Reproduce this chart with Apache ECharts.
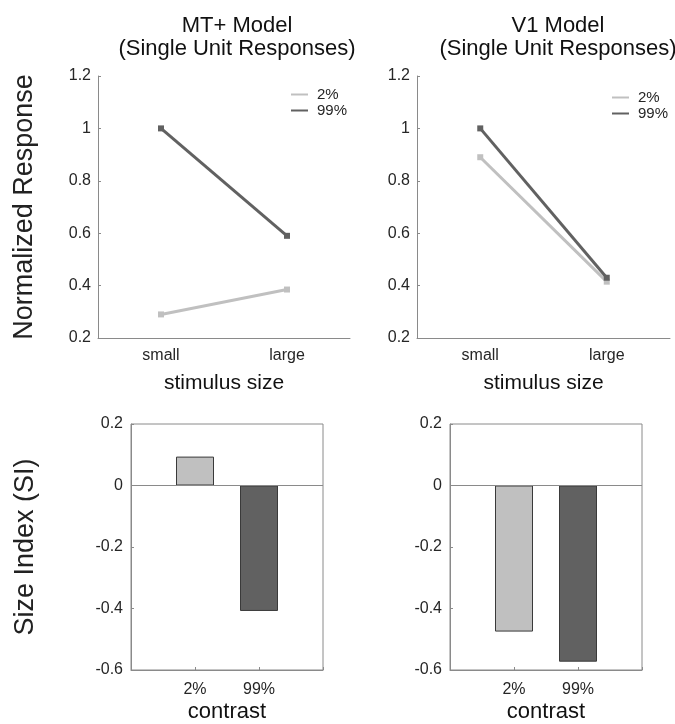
<!DOCTYPE html>
<html>
<head>
<meta charset="utf-8">
<script src="https://cdn.jsdelivr.net/npm/echarts@6/dist/echarts.min.js"></script>
<style>
  html, body { margin: 0; background: #fff; }
  #chart { width: 675px; height: 724px; }
</style>
</head>
<body>
<div id="chart"></div>
<script>
// stimulus size x contrast, normalized responses
const sizes = ['small', 'large'];
const contrasts = ['2%', '99%'];
const mtLow = [0.29, 0.385];
const mtHigh = [1.0, 0.59];
const v1Low = [0.89, 0.415];
const v1High = [1.0, 0.43];
// size index per contrast
const mtSI = [0.094, -0.408];
const v1SI = [-0.475, -0.573];

const FONT = '"Liberation Sans", Arial, sans-serif';
const TXT = '#262626';
const AX = '#8a8a8a';
const LIGHT = '#c0c0c0';
const DARK = '#616161';

const chart = echarts.init(document.getElementById('chart'));

// 上排: 折线 (只有左轴和下轴)
function lineX(idx, name) {
  return {
    type: 'category', gridIndex: idx, data: sizes, boundaryGap: true,
    axisLine: { lineStyle: { color: AX } },
    axisTick: { inside: true, length: 3, alignWithLabel: true, lineStyle: { color: AX } },
    axisLabel: { color: TXT, fontSize: 16, fontFamily: FONT, margin: 10 },
    name: name, nameLocation: 'middle', nameGap: 35,
    nameTextStyle: { color: '#111', fontSize: 21, fontFamily: FONT },
  };
}
function lineY(idx, name) {
  return {
    type: 'value', gridIndex: idx, min: 0.2, max: 1.2, interval: 0.2,
    splitLine: { show: false },
    axisLine: { show: true, lineStyle: { color: AX } },
    axisTick: { show: true, inside: true, length: 3, lineStyle: { color: AX } },
    axisLabel: { color: TXT, fontSize: 16, fontFamily: FONT, margin: 7 },
    name: name, nameLocation: 'middle', nameGap: 60,
    nameTextStyle: { color: '#222', fontSize: 27, fontFamily: FONT },
  };
}

// 下排: 柱状 (带框)
function barX(idx, name) {
  return {
    type: 'value', gridIndex: idx, min: 0, max: contrasts.length + 1, interval: 1,
    splitLine: { show: false },
    axisLine: { show: true, onZero: false, lineStyle: { color: AX } },
    axisTick: { inside: true, length: 3, lineStyle: { color: AX } },
    axisLabel: {
      color: TXT, fontSize: 16, fontFamily: FONT, margin: 12,
      formatter: v => contrasts[v - 1] || '',
    },
    name: name, nameLocation: 'middle', nameGap: 31,
    nameTextStyle: { color: '#111', fontSize: 22, fontFamily: FONT },
  };
}
function barY(idx, name) {
  return {
    type: 'value', gridIndex: idx, min: -0.6, max: 0.2, interval: 0.2,
    splitLine: { show: false },
    axisLine: { show: true, lineStyle: { color: AX } },
    axisTick: { show: true, inside: true, length: 3, lineStyle: { color: AX } },
    axisLabel: { color: TXT, fontSize: 16, fontFamily: FONT, margin: 8 },
    name: name, nameLocation: 'middle', nameGap: 92,
    nameTextStyle: { color: '#222', fontSize: 27, fontFamily: FONT },
  };
}

function lineSeries(idx, name, data, color) {
  return {
    type: 'line', name: name, xAxisIndex: idx, yAxisIndex: idx, data: data,
    symbol: 'rect', symbolSize: 6, color: color,
    lineStyle: { width: 3, color: color }, itemStyle: { color: color },
    emphasis: { disabled: true },
  };
}
function barSeries(idx, data) {
  return {
    type: 'bar', xAxisIndex: idx, yAxisIndex: idx, barWidth: 38,
    data: data.map((v, i) => ({
      value: [i + 1, v],
      itemStyle: { color: i === 0 ? LIGHT : DARK, borderColor: '#3a3a3a', borderWidth: 1 },
    })),
    markLine: {
      silent: true, symbol: 'none', label: { show: false },
      lineStyle: { color: AX, type: 'solid', width: 1 },
      data: [{ yAxis: 0 }],
    },
  };
}

const titleStyle = { color: '#111', fontSize: 22, fontWeight: 'normal', fontFamily: FONT, lineHeight: 23 };
const legendBase = {
  orient: 'vertical', itemWidth: 17, itemHeight: 2, itemGap: 1, icon: 'rect',
  data: contrasts,
  textStyle: { color: TXT, fontSize: 15, fontFamily: FONT, padding: [0, 0, 0, 4] },
};

chart.setOption({
  animation: false,
  backgroundColor: '#fff',
  title: [
    { text: 'MT+ Model\n(Single Unit Responses)', left: 232, top: 9, textAlign: 'center', textStyle: titleStyle },
    { text: 'V1 Model\n(Single Unit Responses)', left: 553, top: 9, textAlign: 'center', textStyle: titleStyle },
  ],
  legend: [
    Object.assign({ left: 286, top: 82 }, legendBase),
    Object.assign({ left: 607, top: 85 }, legendBase),
  ],
  grid: [
    { left: 98, top: 76, width: 252, height: 262 },
    { left: 417, top: 76, width: 253, height: 262 },
    { left: 131, top: 424, width: 192, height: 246, show: true, borderColor: AX, borderWidth: 1 },
    { left: 450, top: 424, width: 192, height: 246, show: true, borderColor: AX, borderWidth: 1 },
  ],
  xAxis: [
    lineX(0, 'stimulus size'),
    lineX(1, 'stimulus size'),
    barX(2, 'contrast'),
    barX(3, 'contrast'),
  ],
  yAxis: [
    lineY(0, 'Normalized Response'),
    lineY(1, ''),
    barY(2, 'Size Index (SI)'),
    barY(3, ''),
  ],
  series: [
    lineSeries(0, '2%', mtLow, LIGHT),
    lineSeries(0, '99%', mtHigh, DARK),
    lineSeries(1, '2%', v1Low, LIGHT),
    lineSeries(1, '99%', v1High, DARK),
    barSeries(2, mtSI),
    barSeries(3, v1SI),
  ],
});
</script>
</body>
</html>
